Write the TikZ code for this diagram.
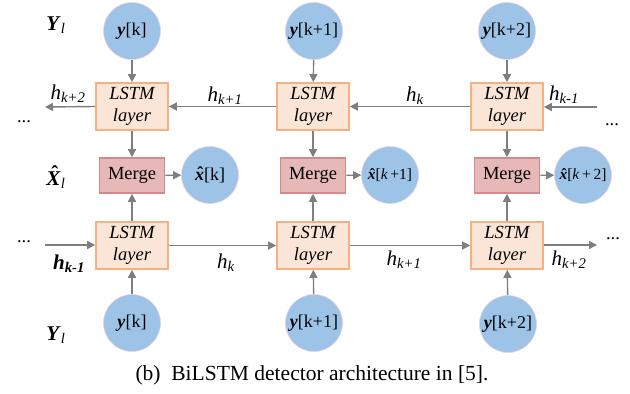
\documentclass[tikz,border=0pt]{standalone}
\usepackage{fontspec}
\setmainfont{Liberation Serif}
\usetikzlibrary{arrows.meta}
\definecolor{cblue}{HTML}{9DC3E6}
\definecolor{cedge}{HTML}{E9CFE6}
\definecolor{lfill}{HTML}{FBE5D6}
\definecolor{ledge}{HTML}{F4B183}
\definecolor{mfill}{HTML}{E6B9B8}
\definecolor{medge}{HTML}{D48A88}
\definecolor{agray}{HTML}{7F7F7F}
\newcommand{\hatover}[3]{{\setbox0\hbox{#1}\rlap{\hbox to \wd0{\hss\kern#2\raisebox{#3}{\textbf{\char"02C6}}\hss}}\box0}}
\newcommand{\bx}{\hatover{\textbf{\textit{x}}}{0.1em}{0.02em}}
\newcommand{\by}{\textbf{\textit{y}}}
\tikzset{
  circ/.style={circle,fill=cblue,draw=cedge,line width=0.6pt,minimum size=57pt,inner sep=0pt,font=\fontsize{18}{20}\selectfont},
  lstm/.style={rectangle,fill=lfill,draw=ledge,line width=1.6pt,minimum width=72pt,minimum height=47pt,inner sep=0pt,align=center,font=\fontsize{18.5}{22}\selectfont\itshape},
  merge/.style={rectangle,fill=mfill,draw=medge,line width=1.6pt,minimum width=65pt,minimum height=35pt,inner sep=0pt,font=\fontsize{18.5}{22}\selectfont},
  arr/.style={draw=agray,line width=1.4pt,-{Triangle[length=8pt,width=8pt]},color=agray},
  lab/.style={inner sep=0pt,font=\fontsize{21}{24}\selectfont},
  dots/.style={inner sep=0pt,anchor=base,font=\fontsize{18.5}{22}\selectfont}
}
\begin{document}
\begin{tikzpicture}[x=1pt,y=-1pt]
\useasboundingbox (0,0) rectangle (630,394);
% top circles
\node[circ] (yt1) at (132,31) {\by[k]};
\node[circ] (yt2) at (314,31) {\by[k+1]};
\node[circ] (yt3) at (507,31) {\by[k+2]};
% top LSTM
\node[lstm] (lt1) at (132,106.5) {LSTM\\layer};
\node[lstm] (lt2) at (313,106.5) {LSTM\\layer};
\node[lstm] (lt3) at (507,106.5) {LSTM\\layer};
% merges
\node[merge] (m1) at (132,175.5) {Merge};
\node[merge] (m2) at (313,175.5) {Merge};
\node[merge] (m3) at (507,175.5) {Merge};
% xhat circles
\node[circ] (x1) at (210,175) {\bx[k]};
\node[circ,font=\fontsize{15.5}{18}\selectfont] (x2) at (390,175) {\bx[\textit{k}\,+1]};
\node[circ,font=\fontsize{15.5}{18}\selectfont] (x3) at (583,175) {\bx[\textit{k}\,+\,2]};
% bottom LSTM
\node[lstm] (lb1) at (132,245.5) {LSTM\\layer};
\node[lstm] (lb2) at (313,245.5) {LSTM\\layer};
\node[lstm] (lb3) at (507,245.5) {LSTM\\layer};
% bottom circles
\node[circ] (yb1) at (132,323) {\by[k]};
\node[circ] (yb2) at (314,323) {\by[k+1]};
\node[circ] (yb3) at (508,324) {\by[k+2]};
% free ends
\coordinate (tl) at (45,107);
\coordinate (tr) at (597,107);
\coordinate (bl) at (45,245);
\coordinate (br) at (597,245);
% vertical arrows
\foreach \i in {1,2,3}{
  \draw[arr] (yt\i) -- (lt\i);
  \draw[arr] (lt\i) -- (m\i);
  \draw[arr] (lb\i) -- (m\i);
  \draw[arr] (yb\i) -- (lb\i);
  \draw[arr] (m\i) -- (x\i);
}
% horizontal arrows top (right to left)
\draw[arr] (tr) -- (lt3.east |- tr);
\draw[arr] (lt3.west) -- (lt2.east);
\draw[arr] (lt2.west) -- (lt1.east);
\draw[arr] (lt1.west) -- (tl);
% horizontal arrows bottom (left to right)
\draw[arr] (bl) -- (lb1.west |- bl);
\draw[arr] (lb1.east) -- (lb2.west);
\draw[arr] (lb2.east) -- (lb3.west);
\draw[arr] (lb3.east |- br) -- (br);
% row labels
\node[lab] (Yt) at (56,25) {\textbf{\textit{Y}}\textsubscript{\textit{l}}};
\node[lab] (Xh) at (56,177) {\hatover{\textbf{\textit{X}}}{0.12em}{0.22em}\textsubscript{\textit{l}}};
\node[lab] (Yb) at (56,335) {\textbf{\textit{Y}}\textsubscript{\textit{l}}};
% dots
\node[dots] (d1) at (24,122) {...};
\node[dots] (d2) at (24,242) {...};
\node[dots] (d3) at (612,125) {...};
\node[dots] (d4) at (613,239) {...};
% h labels top
\node[lab] (h1) at (68,94) {\textit{h}\textsubscript{\textit{k+2}}};
\node[lab] (h2) at (225,96) {\textit{h}\textsubscript{\textit{k+1}}};
\node[lab] (h3) at (415,96) {\textit{h}\textsubscript{\textit{k}}};
\node[lab] (h4) at (564,95) {\textit{h}\textsubscript{\textit{k-1}}};
% h labels bottom
\node[lab] (h5) at (69,264) {\textbf{\textit{h}}\textsubscript{\textbf{\textit{k-1}}}};
\node[lab] (h6) at (226,263) {\textit{h}\textsubscript{\textit{k}}};
\node[lab] (h7) at (404,260) {\textit{h}\textsubscript{\textit{k+1}}};
\node[lab] (h8) at (569,260) {\textit{h}\textsubscript{\textit{k+2}}};
% caption
\node[inner sep=0pt,font=\fontsize{21.5}{24}\selectfont] (cap) at (312,375) {(b)\ \ BiLSTM detector architecture in [5].};
\end{tikzpicture}
\end{document}
